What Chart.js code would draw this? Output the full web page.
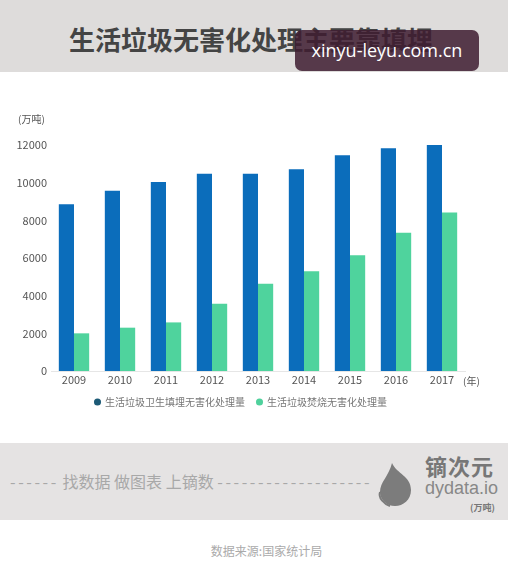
<!DOCTYPE html>
<html>
<head>
<meta charset="utf-8">
<script src="https://cdn.jsdelivr.net/npm/chart.js@4.4.0/dist/chart.umd.min.js"></script>
<style>
  body { margin: 0; width: 508px; height: 561px; background: #fff; overflow: hidden; font-family: "Noto Sans CJK SC", "Noto Sans", sans-serif; }
  .abs { position: absolute; }
  #topband { left: 0; top: 0; width: 508px; height: 72px; background: #dedcdb; }
  #botband { left: 0; top: 443px; width: 508px; height: 77px; background: #e5e3e3; }
  #title { left: 0; width: 502px; top: 21px; text-align: center; font-size: 26px; font-weight: bold; color: #444; line-height: 36px; }
  #mark { left: 295px; top: 30px; width: 184px; height: 41px; background: rgba(62, 28, 48, 0.85); border-radius: 7px; color: #fff; font-family: "Open Sans", "Noto Sans", sans-serif; font-size: 18px; line-height: 41px; text-align: center; }
  #slogan { left: 10px; top: 469px; font-size: 16px; color: #a8a8a8; white-space: pre; line-height: 24px; }
  #slogan .d { letter-spacing: 2.6px; }
  #brand { left: 425px; top: 451px; font-size: 22px; font-weight: bold; color: #777; line-height: 28px; letter-spacing: 1px; }
  #domain { left: 425px; top: 477px; font-family: "Liberation Sans", sans-serif; font-size: 18px; color: #888; line-height: 22px; }
  #unit2 { left: 470px; top: 501px; font-size: 9px; font-weight: bold; color: #777; }
  #src { left: 0; width: 533px; top: 542px; text-align: center; font-size: 12px; color: #aaa; }
  #leaf { left: 376px; top: 460px; }
  #wrap { left: 0; top: 0; width: 508px; height: 425px; }
</style>
</head>
<body>
<div id="topband" class="abs"></div>
<div id="botband" class="abs"></div>
<div id="title" class="abs">生活垃圾无害化处理主要靠填埋</div>
<div id="mark" class="abs">xinyu-leyu.com.cn</div>
<div id="slogan" class="abs"><span class="d">------</span> 找数据 做图表 上镝数 <span class="d">-------------------</span></div>
<svg id="leaf" class="abs" width="40" height="48" viewBox="0 0 40 48">
  <path d="M16 3 C21 14 35 16 35 30 C35 40 27 46 19 46 C11 46 4 40 4 32 C4 22 13 16 16 3 Z" fill="#7c7c7c"/>
  <path d="M4 32 C2 38 8 44 14 46" fill="none" stroke="#7c7c7c" stroke-width="2"/>
</svg>
<div id="brand" class="abs">镝次元</div>
<div id="domain" class="abs">dydata.io</div>
<div id="unit2" class="abs">(万吨)</div>
<div id="src" class="abs">数据来源:国家统计局</div>
<div id="wrap" class="abs"><canvas id="chart" width="508" height="425"></canvas></div>
<script>
// 数据
const years = ['2009', '2010', '2011', '2012', '2013', '2014', '2015', '2016', '2017'];
const landfill = [8860, 9570, 10030, 10470, 10470, 10710, 11460, 11830, 12000];
const burning = [2000, 2300, 2580, 3570, 4630, 5300, 6140, 7340, 8420];
const seriesNames = ['生活垃圾卫生填埋无害化处理量', '生活垃圾焚烧无害化处理量'];
const legendDots = ['#1c5a76', '#4fd19c'];

// 单位标签 (万吨) / (年)
const unitLabels = {
    id: 'unitLabels',
    afterDraw(chart) {
        const c = chart.ctx;
        const y = chart.scales.y;
        const x = chart.scales.x;
        c.save();
        c.font = '10px "Noto Sans CJK SC"';
        c.fillStyle = '#555';
        c.textBaseline = 'middle';
        c.textAlign = 'left';
        c.fillText('(万吨)', 18, y.top - 26);
        c.fillText('(年)', x.right - 2, x.top + 10);
        c.restore();
    }
};

const ctx = document.getElementById('chart');
const myChart = new Chart(ctx, {
    type: 'bar',
    data: {
        labels: years,
        datasets: [{
            label: seriesNames[0],
            data: landfill,
            backgroundColor: '#0b6dbb',
            categoryPercentage: 0.66,
            barPercentage: 1
        }, {
            label: seriesNames[1],
            data: burning,
            backgroundColor: '#4fd39d',
            categoryPercentage: 0.66,
            barPercentage: 1
        }]
    },
    options: {
        responsive: false,
        animation: false,
        layout: { padding: { left: 17, right: 43, top: 145, bottom: 8 } },
        scales: {
            x: {
                grid: { display: false, drawTicks: false },
                border: { color: '#e6e6e6' },
                ticks: { color: '#555', font: { size: 11, family: 'Noto Sans CJK SC' }, padding: 2 },
                afterFit: s => { s.height = 14; }
            },
            y: {
                min: 0,
                max: 12000,
                grid: { display: false, drawTicks: false },
                border: { display: false },
                ticks: {
                    stepSize: 2000,
                    color: '#555',
                    font: { size: 11, family: 'Noto Sans CJK SC' },
                    padding: 4,
                    callback: v => String(v)
                },
                afterFit: s => { s.width = 34; }
            }
        },
        plugins: {
            tooltip: { enabled: false },
            legend: {
                position: 'bottom',
                labels: {
                    usePointStyle: true,
                    pointStyle: 'circle',
                    boxWidth: 5,
                    boxHeight: 5,
                    padding: 12,
                    color: '#777',
                    font: { size: 10, family: 'Noto Sans CJK SC' },
                    generateLabels: chart => chart.data.datasets.map((d, i) => ({
                        text: d.label,
                        fillStyle: legendDots[i],
                        strokeStyle: legendDots[i],
                        lineWidth: 0,
                        pointStyle: 'circle',
                        datasetIndex: i,
                        fontColor: '#777'
                    }))
                }
            }
        }
    },
    plugins: [unitLabels]
});
window.myChart = myChart;
</script>
</body>
</html>
